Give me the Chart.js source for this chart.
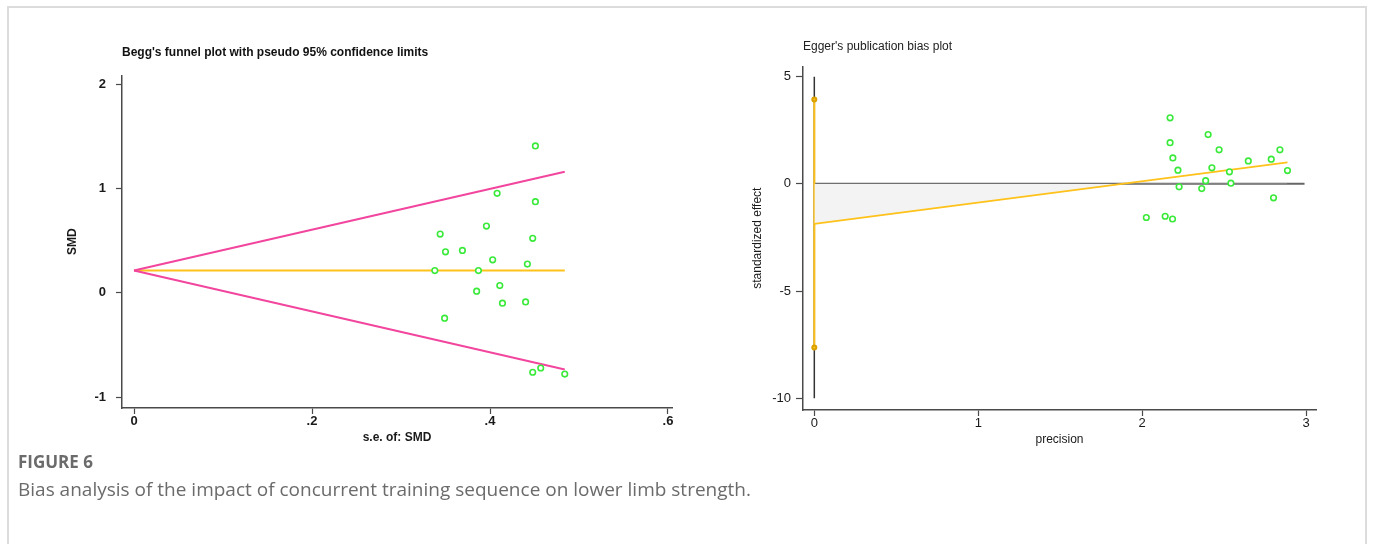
<!DOCTYPE html>
<html>
<head>
<meta charset="utf-8">
<script src="https://cdn.jsdelivr.net/npm/chart.js@4.4.1/dist/chart.umd.min.js"></script>
<style>
  body { margin: 0; background: #fff; width: 1375px; height: 544px; overflow: hidden; position: relative; }
  .frame { position: absolute; left: 7px; top: 6px; width: 1360px; height: 600px; border: 2px solid #dcdcdc; box-sizing: border-box; }
  #begg { position: absolute; left: 0; top: 0; }
  #egger { position: absolute; left: 700px; top: 0; }
  .fig { position: absolute; left: 18px; top: 450px; font-family: "Open Sans", sans-serif; color: #6b6b6b; }
  .fig b { display: block; font-size: 17px; font-weight: 700; line-height: 24px; }
  .fig span { display: block; font-size: 19px; line-height: 30px; }
</style>
</head>
<body>
<div class="frame"></div>
<canvas id="begg" width="700" height="460"></canvas>
<canvas id="egger" width="675" height="460"></canvas>
<div class="fig"><b>FIGURE 6</b><span>Bias analysis of the impact of concurrent training sequence on lower limb strength.</span></div>
<script>
"use strict";

// Begg's funnel plot: s.e. of SMD vs SMD
var beggSE  = [0.451, 0.408, 0.451, 0.396, 0.344, 0.448, 0.350, 0.369, 0.403, 0.442,
               0.338, 0.387, 0.411, 0.385, 0.414, 0.440, 0.349, 0.448, 0.457, 0.484];
var beggSMD = [1.41, 0.955, 0.875, 0.641, 0.564, 0.523, 0.394, 0.407, 0.317, 0.276,
               0.214, 0.214, 0.07, 0.016, -0.099, -0.087, -0.243, -0.762, -0.721, -0.779];
var funnelSE    = [0, 0.484];
var funnelUpper = [0.214, 1.163];
var funnelLower = [0.214, -0.735];
var pooledSMD   = [0.214, 0.214];
var beggXTicks  = [0, 0.2, 0.4, 0.6];
var beggYTicks  = [-1, 0, 1, 2];

// Egger's plot: precision vs standardized effect
var eggPrec   = [2.170, 2.402, 2.170, 2.469, 2.840, 2.187, 2.647, 2.787, 2.886, 2.218,
                 2.425, 2.532, 2.387, 2.225, 2.363, 2.541, 2.801, 2.025, 2.140, 2.185];
var eggEffect = [3.08, 2.30, 1.92, 1.59, 1.59, 1.21, 1.07, 1.15, 0.62, 0.64,
                 0.75, 0.56, 0.15, -0.14, -0.22, 0.03, -0.65, -1.57, -1.51, -1.64];
var regPrec    = [0, 2.886];
var regEffect  = [-1.87, 1.007];
var ciEffect   = [3.93, -7.63];
var spikeEffect = [5, -10];
var zeroPrec   = [0, 2.99];
var eggXTicks  = [0, 1, 2, 3];
var eggYTicks  = [-10, -5, 0, 5];

var pts = function(xs, ys) {
    return xs.map(function(x, i) { return {x: x, y: ys[i]}; });
};
var fixTicks = function(list) {
    return function(scale) { scale.ticks = list.map(function(v) { return {value: v}; }); };
};
var fixSize = function(key, size) {
    return function(scale) { scale[key] = size; };
};

var green = '#3aea3a', pink = '#f2459e', orange = '#ffc21a', axisCol = '#4a4a4a';
var sans = '"Liberation Sans", Arial, sans-serif';

var createChart = function(el, datasets, scales, title, layout) {
    return new Chart(el, {
        type: 'scatter',
        data: { datasets: datasets },
        options: {
            responsive: false,
            animation: false,
            layout: { padding: layout },
            plugins: {
                legend: { display: false },
                tooltip: { enabled: false },
                title: title
            },
            scales: scales
        }
    });
};

var axis = function(opts) {
    return {
        type: 'linear',
        min: opts.min,
        max: opts.max,
        afterBuildTicks: fixTicks(opts.ticks),
        afterFit: fixSize(opts.sizeKey, opts.size),
        border: { display: true, color: axisCol, width: 1.5 },
        grid: { drawOnChartArea: false, drawTicks: true, tickLength: opts.tickLength, color: axisCol, tickWidth: 1.2 },
        ticks: {
            color: '#1a1a1a',
            padding: opts.pad,
            maxRotation: 0,
            autoSkip: false,
            font: { family: sans, size: 13, weight: opts.weight },
            callback: opts.fmt
        },
        title: {
            display: true,
            text: opts.title,
            color: '#1a1a1a',
            font: { family: sans, size: 12, weight: opts.weight },
            padding: opts.titlePad
        }
    };
};

// left panel
createChart(document.getElementById('begg'), [
    { data: pts(beggSE, beggSMD), showLine: false, pointRadius: 2.8, pointBorderWidth: 1.6,
      pointBorderColor: green, pointBackgroundColor: '#fff' },
    { data: pts(funnelSE, funnelUpper), showLine: true, borderColor: pink, borderWidth: 2, pointRadius: 0 },
    { data: pts(funnelSE, funnelLower), showLine: true, borderColor: pink, borderWidth: 2, pointRadius: 0 },
    { data: pts(funnelSE, pooledSMD), showLine: true, borderColor: orange, borderWidth: 2, pointRadius: 0 }
], {
    x: axis({ min: -0.0135, max: 0.6045, ticks: beggXTicks, sizeKey: 'height', size: 40, tickLength: 6, pad: 0,
              weight: 'bold', title: 's.e. of: SMD', titlePad: { top: 0, bottom: 3 },
              fmt: function(v) { return v === 0 ? '0' : '.' + Math.round(v * 10); } }),
    y: axis({ min: -1.105, max: 2.087, ticks: beggYTicks, sizeKey: 'width', size: 122, tickLength: 6, pad: 10,
              weight: 'bold', title: 'SMD', titlePad: { top: 65, bottom: 0 },
              fmt: function(v) { return String(v); } })
}, {
    display: true, text: "Begg's funnel plot with pseudo 95% confidence limits", align: 'start', fullSize: false,
    color: '#111', font: { family: sans, size: 12, weight: 'bold' }, padding: { top: 0, bottom: 16 }
}, { left: 0, top: 45, right: 28, bottom: 12 });

// right panel
createChart(document.getElementById('egger'), [
    { data: pts(eggPrec, eggEffect), showLine: false, pointRadius: 2.8, pointBorderWidth: 1.6,
      pointBorderColor: green, pointBackgroundColor: '#fff' },
    { data: pts(regPrec, regEffect), showLine: true, borderColor: orange, borderWidth: 1.8, pointRadius: 0,
      fill: { target: { value: 0 }, above: 'rgba(0,0,0,0)', below: '#f3f3f3' } },
    { data: pts([0, 0], ciEffect), showLine: true, borderColor: orange, borderWidth: 2, pointRadius: 2,
      pointBackgroundColor: orange, pointBorderColor: '#d9a000' },
    { data: pts([0, 0], spikeEffect), showLine: true, borderColor: '#333', borderWidth: 1.5, pointRadius: 0 },
    { data: pts(zeroPrec, [0, 0]), showLine: true, borderColor: '#666', borderWidth: 2, pointRadius: 0 }
], {
    x: axis({ min: -0.069, max: 3.06, ticks: eggXTicks, sizeKey: 'height', size: 40, tickLength: 6, pad: 0,
              weight: 'normal', title: 'precision', titlePad: { top: 0, bottom: 3 },
              fmt: function(v) { return String(v); } }),
    y: axis({ min: -10.55, max: 5.48, ticks: eggYTicks, sizeKey: 'width', size: 103, tickLength: 7, pad: 5,
              weight: 'normal', title: 'standardized effect', titlePad: { top: 50, bottom: 0 },
              fmt: function(v) { return String(v); } })
}, {
    display: true, text: "Egger's publication bias plot", align: 'start', fullSize: false,
    color: '#222', font: { family: sans, size: 12, weight: 'normal' }, padding: { top: 0, bottom: 13 }
}, { left: 0, top: 39, right: 59, bottom: 10 });
</script>
</body>
</html>
